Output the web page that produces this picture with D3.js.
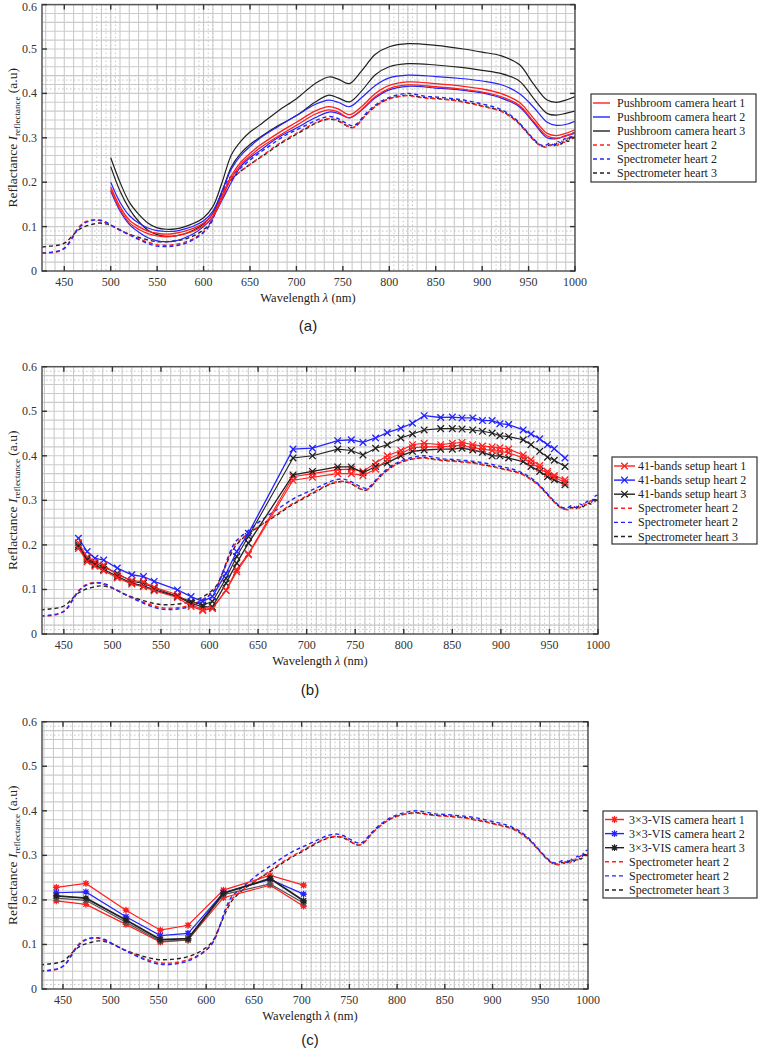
<!DOCTYPE html>
<html><head><meta charset="utf-8">
<script src="https://cdn.jsdelivr.net/npm/d3@7"></script>
<style>body{margin:0;background:#fff}svg{display:block}
.serif{font-family:"Liberation Serif","DejaVu Serif",serif}
.sans{font-family:"Liberation Sans",Arial,sans-serif}</style>
</head><body><svg id="chart" width="758" height="1051"></svg>
<script>
// ---------------- DATA ----------------
const xTicks = [450, 500, 550, 600, 650, 700, 750, 800, 850, 900, 950, 1000];
const yTicks = [0, 0.1, 0.2, 0.3, 0.4, 0.5, 0.6];

// Spectrometer (dashed) reference curves
const specWl = [426,435,445,452,458,465,472,480,487,495, 503,512,520,530,540,550,560,570,580,590,
  600,607,614,620,626,632,640,650,660,670, 680,690,700,710,720,728,736,744,750,756,
  761,766,772,780,790,800,810,820,830,840, 850,860,870,880,890,900,910,920,930,938,
  945,952,958,963,968,973,977,981,985,989, 993,996,1000];
const specRed = [0.041,0.041,0.045,0.055,0.075,0.097,0.110,0.115,0.114,0.108, 0.100,0.090,0.082,0.073,0.065,0.059,0.058,0.060,0.065,0.074,
  0.088,0.105,0.140,0.175,0.200,0.212,0.225,0.240,0.255,0.270, 0.285,0.298,0.310,0.322,0.333,0.340,0.343,0.340,0.333,0.325,
  0.323,0.330,0.345,0.362,0.378,0.388,0.393,0.395,0.392,0.389, 0.388,0.386,0.384,0.380,0.376,0.371,0.366,0.360,0.348,0.335,
  0.320,0.303,0.290,0.282,0.279,0.282,0.286,0.283,0.292,0.290, 0.300,0.296,0.305];
const specBlue = [0.040,0.042,0.046,0.054,0.072,0.095,0.108,0.114,0.115,0.110, 0.100,0.090,0.081,0.071,0.062,0.056,0.055,0.057,0.062,0.072,
  0.087,0.104,0.140,0.178,0.205,0.218,0.232,0.250,0.266,0.280, 0.295,0.308,0.318,0.328,0.338,0.345,0.348,0.344,0.337,0.330,
  0.327,0.333,0.348,0.365,0.381,0.391,0.397,0.400,0.397,0.393, 0.392,0.390,0.388,0.385,0.381,0.376,0.371,0.364,0.352,0.338,
  0.322,0.305,0.292,0.284,0.283,0.288,0.284,0.292,0.289,0.298, 0.295,0.308,0.312];
const specBlack = [0.054,0.056,0.059,0.065,0.078,0.092,0.100,0.105,0.108,0.106, 0.100,0.090,0.083,0.076,0.070,0.066,0.066,0.068,0.072,0.080,
  0.093,0.108,0.140,0.170,0.195,0.210,0.225,0.240,0.254,0.268, 0.283,0.296,0.308,0.320,0.332,0.339,0.342,0.339,0.332,0.325,
  0.323,0.330,0.345,0.362,0.378,0.388,0.393,0.396,0.393,0.390, 0.389,0.387,0.385,0.381,0.377,0.372,0.367,0.361,0.349,0.336,
  0.320,0.303,0.290,0.282,0.280,0.284,0.281,0.288,0.286,0.294, 0.292,0.302,0.298];

// Panel (a): pushbroom camera (two traces per heart)
const pbWl = [500,510,520,530,540,550,560,570,580,590,600,610,620,630,640,650,660,680,700,720,735,745,757,770,785,800,820,850,880,900,920,940,955,970,980,990,1000];
const pbBlack1 = [0.255,0.200,0.155,0.128,0.108,0.097,0.094,0.095,0.100,0.108,0.120,0.145,0.200,0.262,0.292,0.313,0.328,0.360,0.388,0.422,0.437,0.432,0.422,0.450,0.488,0.505,0.512,0.508,0.500,0.493,0.485,0.465,0.422,0.385,0.380,0.385,0.393];
const pbBlack2 = [0.235,0.180,0.140,0.112,0.092,0.082,0.078,0.079,0.084,0.093,0.106,0.130,0.180,0.235,0.265,0.285,0.300,0.327,0.350,0.380,0.396,0.390,0.381,0.405,0.442,0.460,0.467,0.464,0.458,0.452,0.445,0.428,0.390,0.355,0.351,0.355,0.360];
const pbBlue1 = [0.200,0.155,0.125,0.108,0.097,0.091,0.089,0.090,0.095,0.102,0.113,0.135,0.180,0.230,0.260,0.280,0.298,0.325,0.350,0.375,0.385,0.380,0.370,0.390,0.418,0.435,0.441,0.438,0.433,0.428,0.420,0.400,0.370,0.335,0.328,0.330,0.337];
const pbRed1 = [0.190,0.145,0.115,0.100,0.090,0.085,0.083,0.085,0.090,0.097,0.108,0.128,0.170,0.215,0.245,0.265,0.282,0.310,0.335,0.360,0.370,0.365,0.352,0.370,0.400,0.418,0.426,0.422,0.416,0.410,0.400,0.380,0.345,0.310,0.305,0.310,0.318];
const pbRed2 = [0.184,0.139,0.109,0.094,0.084,0.079,0.077,0.079,0.084,0.091,0.102,0.122,0.164,0.209,0.239,0.259,0.276,0.303,0.328,0.353,0.363,0.358,0.345,0.363,0.393,0.411,0.419,0.415,0.409,0.403,0.393,0.373,0.338,0.304,0.299,0.304,0.312];
const pbBlue2 = [0.180,0.135,0.105,0.088,0.075,0.068,0.066,0.068,0.075,0.085,0.100,0.122,0.160,0.200,0.235,0.255,0.270,0.300,0.322,0.345,0.358,0.355,0.345,0.362,0.390,0.408,0.416,0.412,0.407,0.401,0.390,0.370,0.335,0.300,0.298,0.305,0.310];

// Panel (b): 41-bands setup
const bands41 = [465,474,482,491,505,520,532,543,567,581,593,603,617,628,640,686,706,732,746,758,771,783,797,809,821,838,850,860,871,881,891,899,908,923,931,940,948,955,966];
const b41Blue = [0.215,0.185,0.170,0.166,0.148,0.133,0.129,0.118,0.099,0.084,0.073,0.084,0.136,0.185,0.226,0.415,0.417,0.434,0.436,0.430,0.440,0.452,0.462,0.473,0.490,0.486,0.487,0.485,0.485,0.479,0.479,0.472,0.470,0.458,0.449,0.438,0.425,0.416,0.395];
const b41Black1 = [0.200,0.170,0.159,0.151,0.136,0.118,0.114,0.103,0.084,0.073,0.065,0.073,0.125,0.174,0.219,0.395,0.400,0.415,0.412,0.402,0.417,0.425,0.440,0.449,0.458,0.461,0.461,0.460,0.458,0.455,0.451,0.445,0.443,0.436,0.425,0.410,0.397,0.390,0.376];
const b41Red1 = [0.205,0.173,0.162,0.155,0.133,0.120,0.117,0.105,0.088,0.066,0.055,0.058,0.098,0.145,0.180,0.353,0.360,0.369,0.370,0.365,0.384,0.400,0.412,0.425,0.428,0.425,0.428,0.430,0.425,0.422,0.420,0.418,0.415,0.402,0.391,0.378,0.365,0.356,0.346];
const b41Red2 = [0.192,0.162,0.152,0.142,0.126,0.112,0.106,0.097,0.082,0.062,0.053,0.057,0.098,0.140,0.178,0.345,0.352,0.360,0.360,0.356,0.370,0.392,0.405,0.418,0.420,0.420,0.422,0.424,0.418,0.415,0.412,0.410,0.407,0.395,0.384,0.372,0.360,0.352,0.340];
const b41Black2 = [0.196,0.166,0.155,0.145,0.129,0.114,0.108,0.099,0.084,0.069,0.061,0.061,0.114,0.159,0.204,0.357,0.365,0.375,0.375,0.362,0.376,0.384,0.400,0.410,0.413,0.415,0.415,0.417,0.413,0.408,0.400,0.400,0.395,0.387,0.376,0.365,0.353,0.346,0.335];

// Panel (c): 3x3-VIS camera
const visBands = [443, 474, 516, 552, 581, 618, 667, 702];
const visRed1 = [0.228,0.237,0.177,0.132,0.143,0.222,0.255,0.233];
const visRed2 = [0.198,0.190,0.145,0.105,0.110,0.205,0.233,0.186];
const visBlue = [0.216,0.218,0.162,0.120,0.125,0.216,0.246,0.213];
const visBlack1 = [0.209,0.204,0.155,0.111,0.113,0.215,0.248,0.198];
const visBlack2 = [0.204,0.199,0.150,0.107,0.110,0.212,0.236,0.193];

const legendA = ["Pushbroom camera heart 1","Pushbroom camera heart 2","Pushbroom camera heart 3","Spectrometer heart 2","Spectrometer heart 2","Spectrometer heart 3"];
const legendB = ["41-bands setup heart 1","41-bands setup heart 2","41-bands setup heart 3","Spectrometer heart 2","Spectrometer heart 2","Spectrometer heart 3"];
const legendC = ["3\u00d73-VIS camera heart 1","3\u00d73-VIS camera heart 2","3\u00d73-VIS camera heart 3","Spectrometer heart 2","Spectrometer heart 2","Spectrometer heart 3"];
const panelLabels = ["(a)", "(b)", "(c)"];

// ---------------- STYLE ----------------
const RED = "#ff1f1f", BLUE = "#2424ff", BLACK = "#222";
const svg = d3.select("#chart");

function zip(xs, ys){ return xs.map((x,i)=>[x, ys[i]]); }

function drawMarker(g, type, cx, cy, color){
  if (type === "x") {
    const s = 3.3;
    g.append("path").attr("d", `M${cx-s},${cy-s}L${cx+s},${cy+s}M${cx-s},${cy+s}L${cx+s},${cy-s}`)
      .attr("stroke", color).attr("stroke-width", 1.3).attr("fill","none");
  } else if (type === "star") {
    const s = 3.4;
    g.append("path").attr("d", `M${cx},${cy-s}L${cx},${cy+s}M${cx-s},${cy}L${cx+s},${cy}M${cx-s*0.75},${cy-s*0.75}L${cx+s*0.75},${cy+s*0.75}M${cx-s*0.75},${cy+s*0.75}L${cx+s*0.75},${cy-s*0.75}`)
      .attr("stroke", color).attr("stroke-width", 1.2).attr("fill","none");
    g.append("circle").attr("cx",cx).attr("cy",cy).attr("r",2.2).attr("fill",color);
  }
}

function drawPanel(cfg, idx){
  const x = d3.scaleLinear().domain([cfg.x0, 1000]).range([cfg.left, cfg.right]);
  const y = d3.scaleLinear().domain([0, 0.6]).range([cfg.bottom, cfg.top]);
  const g = svg.append("g");
  const clipId = "clip" + idx;
  svg.append("defs").append("clipPath").attr("id", clipId)
    .append("rect").attr("x", cfg.left).attr("y", cfg.top).attr("width", cfg.right-cfg.left).attr("height", cfg.bottom-cfg.top);

  // grid
  const grid = g.append("g").attr("clip-path", `url(#${clipId})`);
  const vx = d3.range(430, 1001, 10);
  grid.selectAll(".vg").data(vx).join("line")
    .attr("x1", d=>x(d)).attr("x2", d=>x(d)).attr("y1", cfg.top).attr("y2", cfg.bottom)
    .attr("stroke", "#cbcbcb").attr("stroke-width", 1.1);
  const hy = d3.range(0.02, 0.6, 0.02);
  grid.selectAll(".hg").data(hy).join("line")
    .attr("y1", d=>y(d)).attr("y2", d=>y(d)).attr("x1", cfg.left).attr("x2", cfg.right)
    .attr("stroke", "#cbcbcb").attr("stroke-width", 1.1);
  // dotted minor bands
  cfg.dotX.forEach(([a,b])=>{
    grid.selectAll(null).data(d3.range(a, b+0.1, 5)).join("line")
      .attr("x1", d=>x(d)).attr("x2", d=>x(d)).attr("y1", cfg.top).attr("y2", cfg.bottom)
      .attr("stroke", "#c4c4c4").attr("stroke-width", 1).attr("stroke-dasharray", "1.5,2.5");
  });
  cfg.dotY.forEach(([a,b])=>{
    grid.selectAll(null).data(d3.range(a, b+0.001, 0.01)).join("line")
      .attr("y1", d=>y(d)).attr("y2", d=>y(d)).attr("x1", cfg.left).attr("x2", cfg.right)
      .attr("stroke", "#c4c4c4").attr("stroke-width", 1).attr("stroke-dasharray", "1.5,2.5");
  });

  // series
  const plot = g.append("g").attr("clip-path", `url(#${clipId})`);
  cfg.series.forEach(s=>{
    const line = d3.line().x(d=>x(d[0])).y(d=>y(d[1]))
      .curve(s.smooth ? d3.curveCatmullRom.alpha(0.5) : d3.curveLinear);
    plot.append("path").datum(zip(s.x, s.y)).attr("d", line)
      .attr("fill","none").attr("stroke", s.color).attr("stroke-width", s.width || 1.2)
      .attr("stroke-dasharray", s.dashed ? "4,3" : null);
    if (s.marker) zip(s.x, s.y).forEach(p=>drawMarker(plot, s.marker, x(p[0]), y(p[1]), s.color));
  });

  // frame
  g.append("rect").attr("x", cfg.left).attr("y", cfg.top).attr("width", cfg.right-cfg.left).attr("height", cfg.bottom-cfg.top)
    .attr("fill","none").attr("stroke","#555").attr("stroke-width",1.5);

  // ticks (inward, all sides)
  const tk = 5;
  const tg = g.append("g").attr("stroke","#333").attr("stroke-width",1.4);
  xTicks.forEach(t=>{
    tg.append("line").attr("x1",x(t)).attr("x2",x(t)).attr("y1",cfg.bottom).attr("y2",cfg.bottom-tk);
    tg.append("line").attr("x1",x(t)).attr("x2",x(t)).attr("y1",cfg.top).attr("y2",cfg.top+tk);
  });
  yTicks.forEach(t=>{
    tg.append("line").attr("y1",y(t)).attr("y2",y(t)).attr("x1",cfg.left).attr("x2",cfg.left+tk);
    tg.append("line").attr("y1",y(t)).attr("y2",y(t)).attr("x1",cfg.right).attr("x2",cfg.right-tk);
  });
  // tick labels
  g.selectAll(".xl").data(xTicks).join("text").attr("class","serif")
    .attr("x", d=>x(d)).attr("y", cfg.bottom+15).attr("text-anchor","middle")
    .attr("font-size", 12).attr("fill","#333").text(d=>d);
  g.selectAll(".yl").data(yTicks).join("text").attr("class","serif")
    .attr("x", cfg.left-5).attr("y", d=>Math.max(y(d)+4, 10.5)).attr("text-anchor","end")
    .attr("font-size", 12).attr("fill","#333").text(d=>d===0?"0":d3.format(".1f")(d));

  // axis titles
  const xt = g.append("text").attr("class","serif").attr("x", cfg.xTitleX).attr("y", cfg.bottom+31).attr("text-anchor","middle")
    .attr("font-size", 12.5).attr("fill","#222");
  xt.append("tspan").text("Wavelength ");
  xt.append("tspan").attr("font-style","italic").text("\u03bb");
  xt.append("tspan").text(" (nm)");
  const cy = (cfg.top+cfg.bottom)/2;
  const yt = g.append("text").attr("class","serif").attr("transform", `translate(17,${cy}) rotate(-90)`).attr("text-anchor","middle")
    .attr("font-size", 13.5).attr("fill","#222");
  yt.append("tspan").text("Reflactance ");
  yt.append("tspan").attr("font-style","italic").text("I");
  yt.append("tspan").attr("font-size", 9).attr("dy", 3).text("reflectance");
  yt.append("tspan").attr("dy", -3).text(" (a.u)");

  // panel label
  g.append("text").attr("class","sans").attr("x", cfg.labelX).attr("y", cfg.labelY).attr("text-anchor","middle")
    .attr("font-size", 15).attr("fill","#222").text(panelLabels[idx]);

  // legend
  const L = cfg.legend;
  const lg = g.append("g");
  lg.append("rect").attr("x", L.x0).attr("y", L.y0).attr("width", L.x1-L.x0).attr("height", L.y1-L.y0)
    .attr("fill","#fff").attr("stroke","#333").attr("stroke-width",1.2);
  L.items.forEach((it, i)=>{
    const yy = L.y0 + L.first + i*L.step;
    lg.append("line").attr("x1", L.x0+2).attr("x2", L.x0+L.sample).attr("y1", yy).attr("y2", yy)
      .attr("stroke", it.color).attr("stroke-width", 1.4).attr("stroke-dasharray", it.dashed ? "4,3" : null);
    if (it.marker) drawMarker(lg, it.marker, L.x0 + 2 + (L.sample-2)/2, yy, it.color);
    lg.append("text").attr("class","serif").attr("x", L.x0+L.textOff).attr("y", yy+4)
      .attr("font-size", 12).attr("fill","#222").text(it.label);
  });
}

function specSeries(){
  return [
    {x: specWl, y: specBlack, color: BLACK, dashed: true, smooth: true, width: 1.4},
    {x: specWl, y: specRed, color: RED, dashed: true, smooth: true, width: 1.4},
    {x: specWl, y: specBlue, color: BLUE, dashed: true, smooth: true, width: 1.4}
  ];
}
function legendItems(labels, marker){
  const cols = [RED, BLUE, BLACK, RED, BLUE, BLACK];
  return labels.map((l,i)=>({label: l, color: cols[i], dashed: i>=3, marker: i<3 ? marker : null}));
}

const panels = [
  { top: 4.6, bottom: 271, left: 42, right: 575, x0: 426, xTitleX: 308, labelX: 308, labelY: 331,
    dotX: [[485,505],[595,610],[805,825],[915,930]], dotY: [[0.41,0.44],[0.07,0.09]],
    series: [...specSeries(),
      {x: pbWl, y: pbBlack1, color: BLACK, smooth: true, width: 1.2},
      {x: pbWl, y: pbBlack2, color: BLACK, smooth: true, width: 1.2},
      {x: pbWl, y: pbBlue1, color: BLUE, smooth: true, width: 1.2},
      {x: pbWl, y: pbBlue2, color: BLUE, smooth: true, width: 1.2},
      {x: pbWl, y: pbRed1, color: RED, smooth: true, width: 1.3},
      {x: pbWl, y: pbRed2, color: RED, smooth: true, width: 1.3}],
    legend: {x0: 591, x1: 756, y0: 94, y1: 182, first: 9, step: 14, sample: 19, textOff: 26, items: legendItems(legendA, null)} },
  { top: 366.7, bottom: 634, left: 42, right: 598, x0: 427.5, xTitleX: 320, labelX: 310, labelY: 695,
    dotX: [[685,995]], dotY: [[0.57,0.6],[0.0,0.02]],
    series: [...specSeries(),
      {x: bands41, y: b41Black1, color: BLACK, marker: "x", width: 1.1},
      {x: bands41, y: b41Blue, color: BLUE, marker: "x", width: 1.3},
      {x: bands41, y: b41Red1, color: RED, marker: "x", width: 1.1},
      {x: bands41, y: b41Black2, color: BLACK, marker: "x", width: 1.3},
      {x: bands41, y: b41Red2, color: RED, marker: "x", width: 1.1}],
    legend: {x0: 612, x1: 757, y0: 457, y1: 544, first: 9, step: 14.1, sample: 23, textOff: 26, items: legendItems(legendB, "x")} },
  { top: 721.7, bottom: 989, left: 42, right: 588, x0: 428, xTitleX: 310, labelX: 310, labelY: 1045,
    dotX: [[705,995]], dotY: [[0.56,0.59],[0.0,0.02]],
    series: [...specSeries(),
      {x: visBands, y: visRed1, color: RED, marker: "star", width: 1.2},
      {x: visBands, y: visRed2, color: RED, marker: "star", width: 1.2},
      {x: visBands, y: visBlue, color: BLUE, marker: "star", width: 1.2},
      {x: visBands, y: visBlack2, color: "#555", marker: "star", width: 1.2},
      {x: visBands, y: visBlack1, color: BLACK, marker: "star", width: 1.8}],
    legend: {x0: 603, x1: 757, y0: 811, y1: 898, first: 8.5, step: 14.1, sample: 21, textOff: 26, items: legendItems(legendC, "star")} }
];
panels.forEach((p,i)=>drawPanel(p,i));
</script></body></html>
